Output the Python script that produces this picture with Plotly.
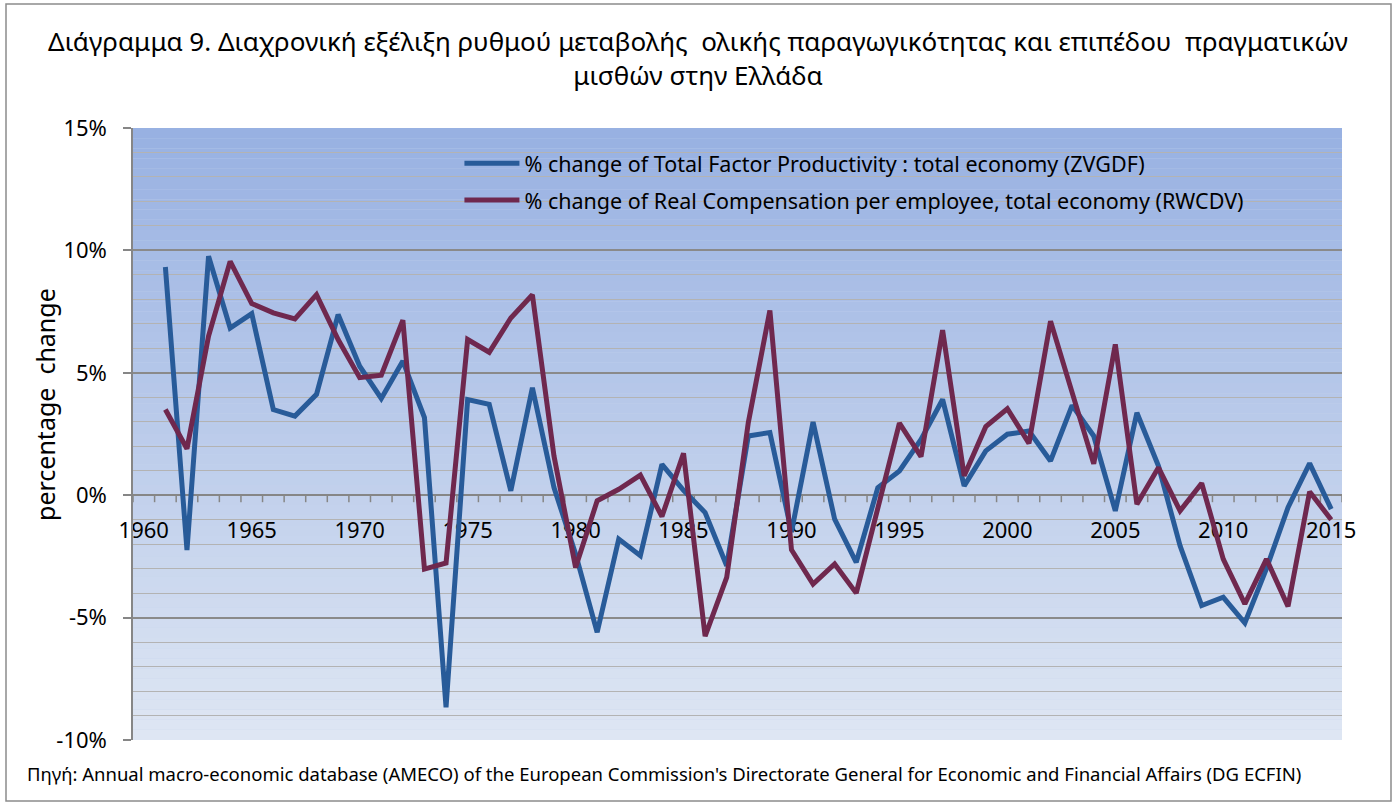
import plotly.graph_objects as go

years = list(range(1961, 2016))
tfp = [9.32, -2.24, 9.76, 6.83, 7.42, 3.5, 3.23, 4.12, 7.38, 5.27,
       3.95, 5.48, 3.17, -8.66, 3.91, 3.71, 0.18, 4.39, 0.31, -2.4,
       -5.6, -1.79, -2.47, 1.26, 0.2, -0.71, -2.88, 2.42, 2.56, -1.5,
       2.99, -0.98, -2.74, 0.31, 0.99, 2.28, 3.91, 0.38, 1.81, 2.49,
       2.62, 1.4, 3.67, 2.42, -0.64, 3.37, 1.19, -2.07, -4.51, -4.17,
       -5.22, -3.0, -0.5, 1.3, -0.57]
rwc = [3.5, 1.9, 6.5, 9.55, 7.83, 7.45, 7.2, 8.19, 6.36, 4.8,
       4.9, 7.15, -3.02, -2.77, 6.36, 5.84, 7.24, 8.19, 1.6, -2.95,
       -0.23, 0.24, 0.82, -0.87, 1.71, -5.76, -3.36, 2.96, 7.55, -2.23,
       -3.63, -2.81, -4.0, -0.5, 2.94, 1.58, 6.74, 0.79, 2.8, 3.53,
       2.12, 7.11, 4.12, 1.28, 6.16, -0.37, 1.13, -0.64, 0.49, -2.61,
       -4.44, -2.61, -4.54, 0.14, -1.0]

x_tick_vals = [1960, 1965, 1970, 1975, 1980, 1985, 1990, 1995, 2000, 2005, 2010, 2015]
x_tick_text = [str(v) for v in x_tick_vals]
y_tick_vals = [-10, -5, 0, 5, 10, 15]
y_tick_text = ['-10%', '-5%', '0%', '5%', '10%', '15%']

name_tfp = '% change of Total Factor Productivity : total economy (ZVGDF)'
name_rwc = '% change of Real Compensation per employee, total economy (RWCDV)'

FONT = 'Noto Sans'
X_MIN, X_MAX = 1959.5, 2015.5
Y_MIN, Y_MAX = -10, 15
PLOT_H = 612

fig = go.Figure()
fig.add_trace(go.Scatter(x=years, y=tfp, mode='lines', name=name_tfp,
                         legendgroup='a',
                         line=dict(color='#285b99', width=5)))
fig.add_trace(go.Scatter(x=years, y=rwc, mode='lines', name=name_rwc,
                         legendgroup='b',
                         line=dict(color='#6f284e', width=5)))

# gradient background bands
shapes = []
n = 60
top = (152, 177, 226)
bot = (222, 230, 243)
for i in range(n):
    t = i / (n - 1)
    c = tuple(round(top[k] + (bot[k] - top[k]) * t) for k in range(3))
    y1 = Y_MAX - (Y_MAX - Y_MIN) * i / n
    y0 = Y_MAX - (Y_MAX - Y_MIN) * (i + 1) / n
    shapes.append(dict(type='rect', xref='paper', yref='y', x0=0, x1=1,
                       y0=y0, y1=y1, layer='below', line=dict(width=0),
                       fillcolor='rgb(%d,%d,%d)' % c))

# category-boundary tick marks on the horizontal axis (between years)
tick_len = 7 * (Y_MAX - Y_MIN) / PLOT_H
b = X_MIN
while b <= X_MAX + 1e-9:
    shapes.append(dict(type='line', xref='x', yref='y', x0=b, x1=b,
                       y0=0, y1=-tick_len, layer='between',
                       line=dict(color='#868686', width=1.5)))
    b += 1

# chart border
shapes.append(dict(type='rect', xref='paper', yref='paper',
                   x0=(6 - 133) / 1209, x1=(1391 - 133) / 1209,
                   y0=1 - (801 - 128) / 612, y1=1 - (4 - 128) / 612,
                   line=dict(color='#8c8c8c', width=1.5), layer='above'))

fig.update_layout(
    width=1396, height=805,
    margin=dict(l=133, r=54, t=128, b=65),
    paper_bgcolor='white', plot_bgcolor='#c5d3ec',
    font=dict(family=FONT, color='black'),
    shapes=shapes,
    title=dict(text='Διάγραμμα 9. Διαχρονική εξέλιξη ρυθμού μεταβολής  ολικής παραγωγικότητας και επιπέδου  πραγματικών<br>μισθών στην Ελλάδα',
               x=0.5, xref='container', xanchor='center',
               y=1 - 51 / 805, yref='container', yanchor='top',
               font=dict(size=26, family=FONT, color='black')),
    showlegend=True,
    legend=dict(x=0.27, y=0.976, xanchor='left', yanchor='top',
                bgcolor='rgba(0,0,0,0)', font=dict(size=21.5, family=FONT),
                itemwidth=55, tracegroupgap=6),
    xaxis=dict(range=[X_MIN, X_MAX], anchor='free', position=0.4,
               tickmode='array', tickvals=x_tick_vals, ticktext=x_tick_text,
               ticks='', showgrid=False, zeroline=False,
               showline=True, linecolor='#868686', linewidth=1.5,
               tickfont=dict(size=22, family=FONT),
               ticklabelstandoff=16, layer='below traces'),
    yaxis=dict(range=[Y_MIN, Y_MAX], domain=[0, 1],
               tickmode='array', tickvals=y_tick_vals, ticktext=y_tick_text,
               ticks='outside', ticklen=8, tickcolor='#868686', tickwidth=1.5,
               showline=True, linecolor='#868686', linewidth=1.5,
               showgrid=True, gridcolor='#8a8a8a', gridwidth=1.5,
               zeroline=False, ticklabelstandoff=12,
               tickfont=dict(size=22, family=FONT),
               minor=dict(tickmode='linear', tick0=0, dtick=1, showgrid=True,
                          gridcolor='#b3b3b3', gridwidth=1.3, ticks='')),
    annotations=[
        dict(text='percentage  change', textangle=-90, xref='paper', yref='paper',
             x=(45 - 133) / 1209, y=1 - (404 - 128) / 612,
             xanchor='center', yanchor='middle', showarrow=False,
             font=dict(size=25, family=FONT)),
        dict(text="Πηγή: Annual macro-economic database (AMECO) of the European Commission's Directorate General for Economic and Financial Affairs (DG ECFIN)",
             xref='paper', yref='paper', x=(25 - 133) / 1209, y=1 - (773 - 128) / 612,
             xanchor='left', yanchor='middle', showarrow=False,
             font=dict(size=18.5, family=FONT)),
    ],
)

fig.write_html('out.html', config={'displayModeBar': False},
               post_script="document.body.style.margin='0';document.body.style.overflow='hidden';")
